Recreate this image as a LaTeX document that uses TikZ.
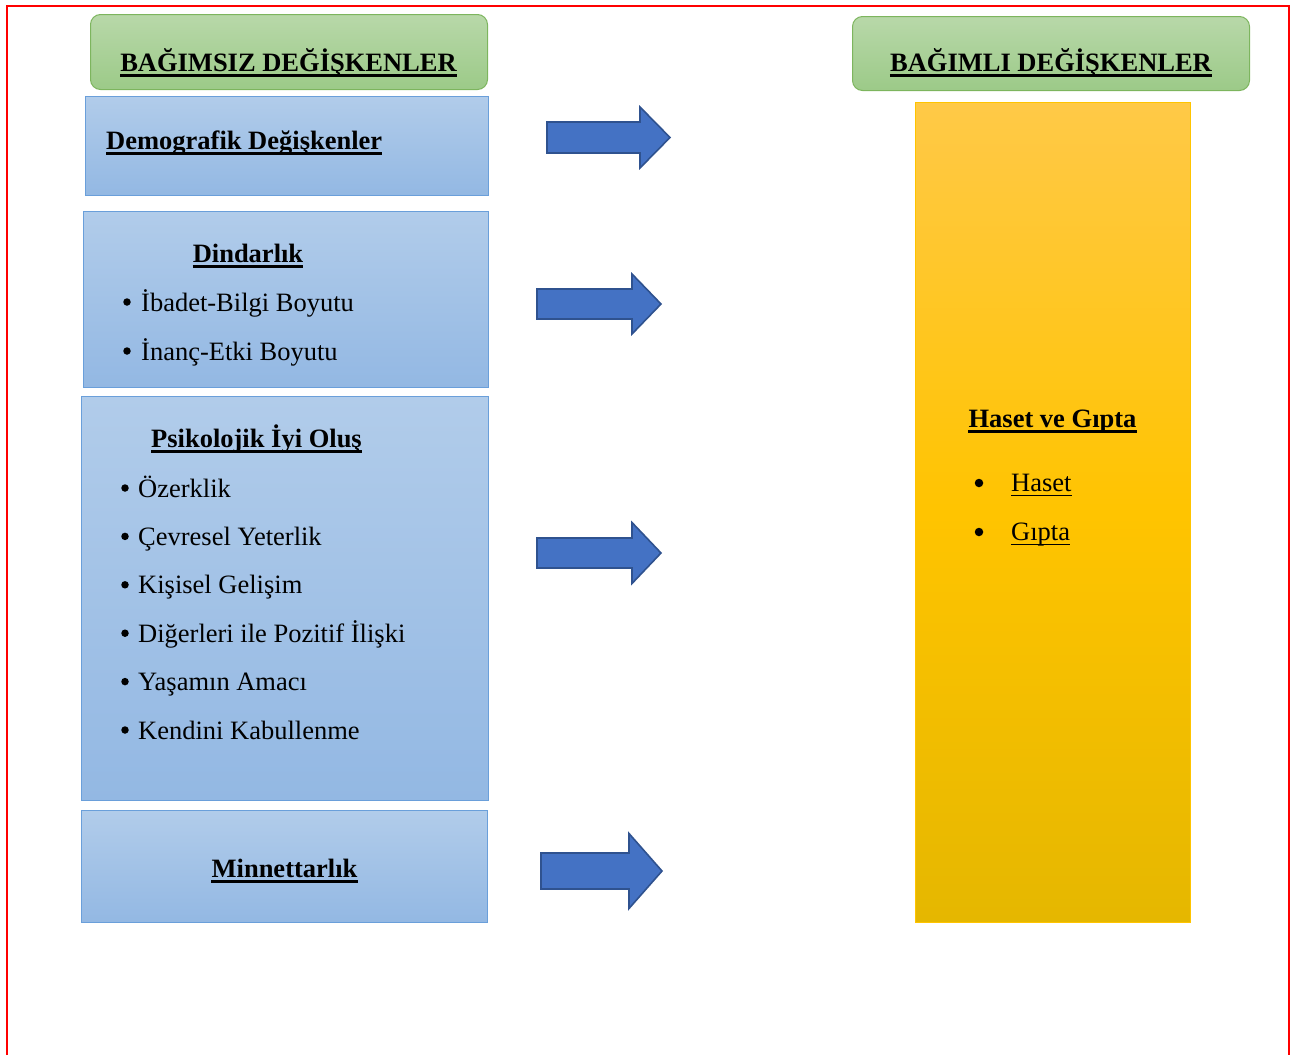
\documentclass[tikz,border=0pt]{standalone}
\usepackage{fontspec}
\setmainfont{Liberation Serif}

\definecolor{yesilust}{HTML}{B8D8A9}
\definecolor{yesilalt}{HTML}{9CCA88}
\definecolor{yesilcizgi}{HTML}{7DB55E}
\definecolor{maviust}{HTML}{B1CCEA}
\definecolor{mavialt}{HTML}{93B8E3}
\definecolor{mavicizgi}{HTML}{6A9FDA}
\definecolor{sariust}{HTML}{FFC947}
\definecolor{sariorta}{HTML}{FFC400}
\definecolor{sarialt}{HTML}{E5B700}
\definecolor{okdolgu}{HTML}{4472C4}
\definecolor{okcizgi}{HTML}{2F528F}

% underline below a text node: node name, thickness
\newcommand{\altciz}[2]{%
  \draw[line width=#2] ([yshift=-4.5pt]#1.base west) -- ([yshift=-4.5pt]#1.base east);}

% block arrow: start x, middle y, head x, tip x, half shaft, half head
\newcommand{\blokok}[6]{%
  \draw[ok] (#1,#2-#5) -- (#3,#2-#5) -- (#3,#2-#6) -- (#4,#2) -- (#3,#2+#6) -- (#3,#2+#5) -- (#1,#2+#5) -- cycle;}

\tikzset{
  baslik/.style={draw=yesilcizgi, line width=1pt, rounded corners=10pt, top color=yesilust, bottom color=yesilalt, anchor=north west, inner sep=0pt},
  kutu/.style={draw=mavicizgi, line width=1pt, top color=maviust, bottom color=mavialt, anchor=north west, inner sep=0pt},
  sarikutu/.style={draw=sariorta, line width=1pt, top color=sariust, bottom color=sarialt, middle color=sariorta, anchor=north west, inner sep=0pt},
  yazi/.style={font=\fontsize{26.5}{32}\selectfont, inner sep=0pt, anchor=base},
  kalin/.style={yazi, font=\fontsize{26.5}{32}\selectfont\bfseries},
  madde/.style={yazi, anchor=base west},
  nokta/.style={circle, fill=black, inner sep=0pt, minimum size=7.5pt}
}
\tikzset{ok/.style={draw=okcizgi, fill=okdolgu, line width=1.6pt}}

\begin{document}
\begin{tikzpicture}[x=1pt, y=-1pt]
    \useasboundingbox (0,0) rectangle (1298,1055);

    % Draw the red frame, open at the bottom
    \draw[red, line width=2.5pt] (7,1055) -- (7,6) -- (1289,6) -- (1289,1055);

    % Draw the two green headers
    \node[baslik, minimum width=397pt, minimum height=75pt] (bagimsiz) at (90,14) {};
    \node[kalin] (bagimsizyazi) at (288.5,71) {BAĞIMSIZ DEĞİŞKENLER};
    \altciz{bagimsizyazi}{2.5pt}
    \node[baslik, minimum width=397pt, minimum height=74pt] (bagimli) at (852,16) {};
    \node[kalin] (bagimliyazi) at (1051,71) {BAĞIMLI DEĞİŞKENLER};
    \altciz{bagimliyazi}{2.5pt}

    % Draw the blue boxes on the left
    \node[kutu, minimum width=403pt, minimum height=99pt] (demografik) at (85,96) {};
    \node[kalin, anchor=base west] (demografikyazi) at (106,149) {Demografik Değişkenler};
    \altciz{demografikyazi}{2.5pt}

    \node[kutu, minimum width=405pt, minimum height=176pt] (dindarlik) at (83,211) {};
    \node[kalin] (dindarlikyazi) at (248,262) {Dindarlık};
    \altciz{dindarlikyazi}{2.5pt}
    \node[nokta] (ibadetnokta) at (127,302) {};
    \node[madde] (ibadet) at (141,311) {İbadet-Bilgi Boyutu};
    \node[nokta] (inancnokta) at (127,351) {};
    \node[madde] (inanc) at (141,360) {İnanç-Etki Boyutu};

    \node[kutu, minimum width=407pt, minimum height=404pt] (psikolojik) at (81,396) {};
    \node[kalin] (psikolojikyazi) at (256.5,447) {Psikolojik İyi Oluş};
    \altciz{psikolojikyazi}{2.5pt}
    \foreach \t [count=\i] in {Özerklik, Çevresel Yeterlik, Kişisel Gelişim, Diğerleri ile Pozitif İlişki, Yaşamın Amacı, Kendini Kabullenme} {
      \node[nokta] (nokta\i) at (125,488+48.4*\i-48.4) {};
      \node[madde] (boyut\i) at (138,497+48.4*\i-48.4) {\t};
    }

    \node[kutu, minimum width=406pt, minimum height=112pt] (minnet) at (81,810) {};
    \node[kalin] (minnetyazi) at (284.5,877) {Minnettarlık};
    \altciz{minnetyazi}{2.5pt}

    % Draw the arrows
    \blokok{547}{137.5}{640}{670}{15.5}{30.5}
    \blokok{537}{304}{632}{661}{15}{30}
    \blokok{537}{553}{632}{661}{15}{30.5}
    \blokok{541}{871}{629}{662}{18}{37.5}

    % Draw the yellow box on the right
    \node[sarikutu, minimum width=275pt, minimum height=820pt] (haset) at (915,102) {};
    \node[kalin] (hasetyazi) at (1052.5,427) {Haset ve Gıpta};
    \altciz{hasetyazi}{2.5pt}
    \node[nokta, minimum size=8.5pt] (nokta7) at (979,483) {};
    \node[madde] (hasetmadde) at (1011,491) {Haset};
    \altciz{hasetmadde}{1.8pt}
    \node[nokta, minimum size=8.5pt] (nokta8) at (979,532) {};
    \node[madde] (giptamadde) at (1011,540) {Gıpta};
    \altciz{giptamadde}{1.8pt}
\end{tikzpicture}
\end{document}
